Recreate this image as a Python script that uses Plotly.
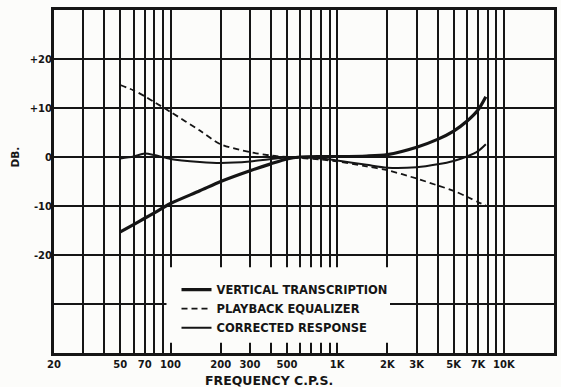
import plotly.graph_objects as go

# ---- data ----
freq = [50, 60, 70, 80, 100, 150, 200, 300, 400, 500, 600, 800, 1000,
        1500, 2000, 3000, 4000, 5000, 6000, 7000, 7800]
vertical_transcription = [-15.3, -13.8, -12.5, -11.4, -9.5, -6.9, -5.0, -2.8, -1.4, -0.4, 0.0,
                          0.1, 0.1, 0.2, 0.5, 2.0, 3.6, 5.3, 7.3, 9.6, 12.3]
playback_equalizer = [14.7, 13.6, 12.4, 11.2, 9.2, 5.4, 2.6, 1.0, 0.3, 0.0, -0.2,
                      -0.5, -0.9, -1.9, -2.7, -4.4, -5.8, -6.9, -8.1, -9.2, -9.9]
corrected_response = [-0.3, 0.1, 0.7, 0.4, -0.4, -1.0, -1.2, -0.9, -0.4, -0.1, 0.0,
                      -0.3, -0.7, -1.6, -2.2, -2.1, -1.5, -0.8, 0.1, 1.2, 2.6]

x_grid = [20, 30, 40, 50, 60, 70, 80, 90, 100, 200, 300, 400, 500, 600, 700, 800, 900,
          1000, 2000, 3000, 4000, 5000, 6000, 7000, 8000, 9000, 10000, 20000]
x_labels = ["20", "", "", "50", "", "70", "", "", "100", "200", "300", "", "500", "", "", "", "",
            "1K", "2K", "3K", "", "5K", "", "7K", "", "", "10K", "20K"]
y_grid = [-30, -20, -10, 0, 10, 20]
y_labels = ["", "-20", "-10", "0", "+10", "+20"]

INK = "#151515"
BG = "#fcfcfa"
FONT = "DejaVu Sans"

fig = go.Figure()
fig.add_trace(go.Scatter(x=freq, y=vertical_transcription, mode="lines",
                         name="<b>VERTICAL TRANSCRIPTION</b>",
                         line=dict(color=INK, width=3.2, shape="spline", smoothing=0.8)))
fig.add_trace(go.Scatter(x=freq, y=playback_equalizer, mode="lines",
                         name="<b>PLAYBACK EQUALIZER</b>",
                         line=dict(color=INK, width=1.8, dash="6px,4px", shape="spline", smoothing=0.8)))
fig.add_trace(go.Scatter(x=freq, y=corrected_response, mode="lines",
                         name="<b>CORRECTED RESPONSE</b>",
                         line=dict(color=INK, width=2.0, shape="spline", smoothing=0.8)))

# plain patch behind the legend that hides grid lines (no curve passes here)
fig.add_shape(type="rect", xref="paper", yref="paper",
              x0=0.225, x1=0.672, y0=0.03, y1=0.25,
              fillcolor=BG, line=dict(width=0), layer="above")

fig.update_layout(
    width=561, height=387,
    margin=dict(l=54, r=4, t=10, b=34),
    paper_bgcolor=BG, plot_bgcolor=BG,
    font=dict(family=FONT, color=INK, size=10),
    showlegend=True,
    legend=dict(x=0.245, y=0.227, xanchor="left", yanchor="top",
                bgcolor="rgba(0,0,0,0)", borderwidth=0,
                font=dict(family=FONT, size=11.5, color=INK),
                itemwidth=30, tracegroupgap=0),
    xaxis=dict(type="log", range=[1.30103, 4.30103],
               tickmode="array", tickvals=x_grid, ticktext=x_labels,
               showgrid=True, gridcolor=INK, gridwidth=1.6,
               showline=True, linecolor=INK, linewidth=3, mirror=True,
               ticks="", zeroline=False,
               tickfont=dict(family=FONT, size=10, color=INK, weight="bold")),
    yaxis=dict(range=[-40, 30],
               tickmode="array", tickvals=y_grid, ticktext=y_labels,
               showgrid=True, gridcolor=INK, gridwidth=1.6,
               showline=True, linecolor=INK, linewidth=3, mirror=True,
               ticks="", zeroline=False, ticklabelstandoff=-3,
               tickfont=dict(family=FONT, size=10, color=INK, weight="bold")),
    annotations=[
        dict(text="<b>FREQUENCY C.P.S.</b>", xref="paper", yref="paper",
             x=0.43, y=-0.08, xanchor="center", yanchor="middle", showarrow=False,
             font=dict(family=FONT, size=12.5, color=INK)),
        dict(text="<b>DB.</b>", xref="paper", yref="paper",
             x=-0.078, y=0.57, xanchor="center", yanchor="middle", showarrow=False,
             textangle=-90, font=dict(family=FONT, size=10.5, color=INK)),
    ],
)

fig.write_html("out.html", config={"displayModeBar": False},
               post_script="document.body.style.margin='0';document.body.style.padding='0';")
